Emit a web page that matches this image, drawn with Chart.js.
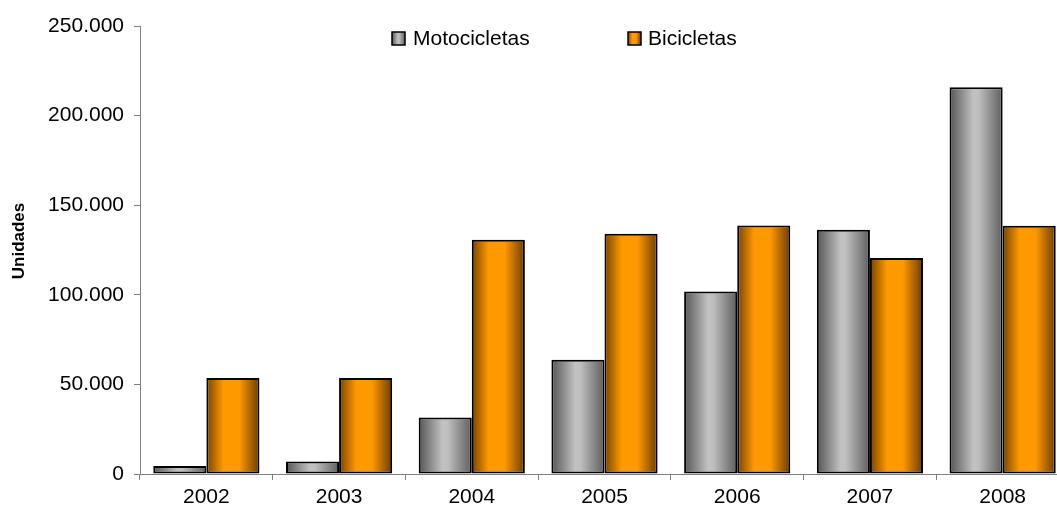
<!DOCTYPE html>
<html>
<head>
<meta charset="utf-8">
<script src="https://cdn.jsdelivr.net/npm/chart.js@4/dist/chart.umd.min.js"></script>
<style>
  html, body { margin: 0; padding: 0; overflow: hidden; background: #fff; }
  canvas { display: block; }
</style>
</head>
<body>
<canvas id="grafico" width="1072" height="514"></canvas>
<script>
Chart.defaults.font.family = '"Liberation Sans", Arial, sans-serif';
Chart.defaults.color = '#000';

const anos = ['2002', '2003', '2004', '2005', '2006', '2007', '2008'];
const motocicletas = [4500, 7000, 31500, 63800, 101900, 136300, 215800];
const bicicletas = [53600, 53600, 130700, 134000, 138700, 120500, 138500];
const ticksY = [0, 50000, 100000, 150000, 200000, 250000];
const tituloY = 'Unidades';

// cores do degradê (borda escura, centro claro)
const corCinza = [[0, '#555555'], [0.45, '#c2c2c2'], [0.55, '#bebebe'], [1, '#5e5e5e']];
const corLaranja = [[0, '#774300'], [0.32, '#ff9900'], [0.62, '#ff9900'], [1, '#6c3c00']];

function degrade(ctx, x0, x1, stops) {
    const g = ctx.createLinearGradient(x0, 0, x1, 0);
    stops.forEach(s => g.addColorStop(s[0], s[1]));
    return g;
}

function corBarra(stops, lado) {
    return function (context) {
        const chart = context.chart;
        const x = chart.scales.x;
        if (!chart.chartArea || !x) return stops[1][1];
        const larguraCat = x.width / anos.length;
        const w = larguraCat * 0.8 / 2;
        const centro = x.getPixelForValue(context.dataIndex);
        const esq = lado === 0 ? centro - w : centro;
        return degrade(chart.ctx, esq, esq + w, stops);
    };
}

// legenda dentro do gráfico + título do eixo y
const legenda = {
    id: 'legenda',
    afterDraw(chart) {
        const { ctx } = chart;
        const pos = [{ box: 392, txt: 413, stops: corCinza }, { box: 628, txt: 648, stops: corLaranja }];
        ctx.save();
        ctx.font = '21px "Liberation Sans", Arial, sans-serif';
        ctx.textBaseline = 'middle';
        chart.data.datasets.forEach((ds, i) => {
            const p = pos[i];
            ctx.fillStyle = degrade(ctx, p.box, p.box + 13, p.stops);
            ctx.fillRect(p.box, 32, 13, 13);
            ctx.lineWidth = 1.5;
            ctx.strokeStyle = '#000';
            ctx.strokeRect(p.box, 32, 13, 13);
            ctx.fillStyle = '#000';
            ctx.fillText(ds.label, p.txt, 39);
        });

        ctx.translate(19, 241);
        ctx.rotate(-Math.PI / 2);
        ctx.font = 'bold 17px "Liberation Sans", Arial, sans-serif';
        ctx.textAlign = 'center';
        ctx.fillText(tituloY, 0, 0);
        ctx.restore();
    }
};

new Chart(document.getElementById('grafico'), {
    type: 'bar',
    data: {
        labels: anos,
        datasets: [
            {
                label: 'Motocicletas',
                data: motocicletas,
                backgroundColor: corBarra(corCinza, 0),
                borderColor: '#000',
                borderWidth: 2,
                borderSkipped: false
            },
            {
                label: 'Bicicletas',
                data: bicicletas,
                backgroundColor: corBarra(corLaranja, 1),
                borderColor: '#000',
                borderWidth: 2,
                borderSkipped: false
            }
        ]
    },
    options: {
        responsive: false,
        animation: false,
        categoryPercentage: 0.8,
        barPercentage: 1,
        layout: { padding: { top: 26, right: 3, left: 0, bottom: 0 } },
        plugins: {
            legend: { display: false },
            tooltip: { enabled: false }
        },
        scales: {
            x: {
                grid: { drawOnChartArea: false, tickLength: 6, color: '#808080' },
                border: { color: '#808080' },
                ticks: { font: { size: 21 }, padding: 5 },
                afterFit(scale) { scale.height = 40; }
            },
            y: {
                min: 0,
                max: 250000,
                afterBuildTicks(scale) { scale.ticks = ticksY.map(v => ({ value: v })); },
                grid: { drawOnChartArea: false, tickLength: 6, color: '#808080' },
                border: { color: '#808080' },
                ticks: {
                    font: { size: 21 },
                    padding: 10,
                    callback: v => String(v).replace(/\B(?=(\d{3})+(?!\d))/g, '.')
                },
                afterFit(scale) { scale.width = 140; }
            }
        }
    },
    plugins: [legenda]
});
</script>
</body>
</html>
